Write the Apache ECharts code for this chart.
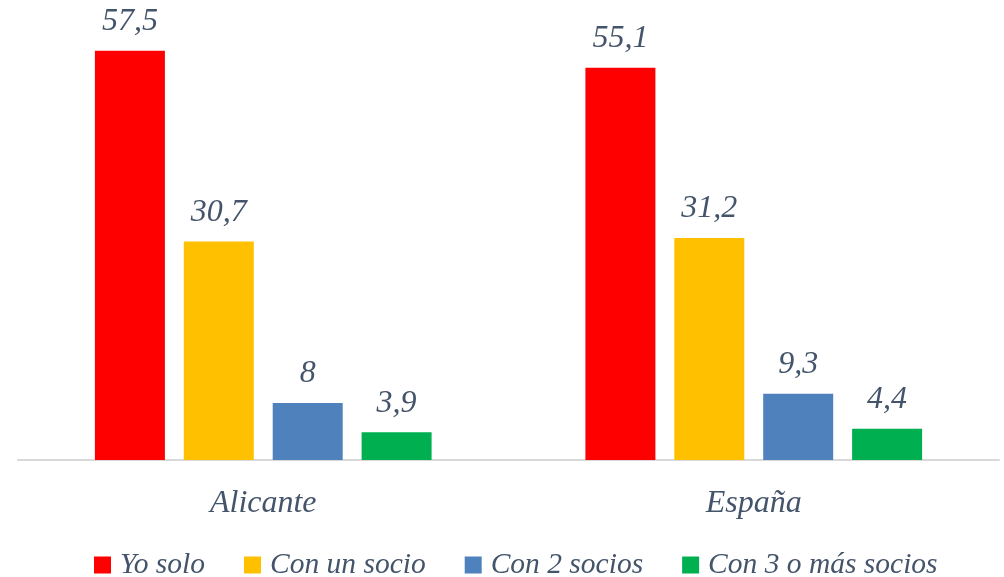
<!DOCTYPE html>
<html>
<head>
<meta charset="utf-8">
<script src="https://cdn.jsdelivr.net/npm/echarts@6/dist/echarts.min.js"></script>
<style>
html, body { margin: 0; padding: 0; background: #fff; }
#chart { width: 1004px; height: 577px; }
</style>
</head>
<body>
<div id="chart"></div>
<script>
var categories = ['Alicante', 'España'];
var seriesNames = ['Yo solo', 'Con un socio', 'Con 2 socios', 'Con 3 o más socios'];
var yoSolo = [57.5, 55.1];
var conUnSocio = [30.7, 31.2];
var con2Socios = [8, 9.3];
var con3oMas = [3.9, 4.4];
var colors = ['#ff0000', '#ffc000', '#4f81bd', '#00b050'];

var textColor = '#44546a';
var fontFam = '"Liberation Serif", serif';

function fmt(p) {
	return String(p.value).replace('.', ',');
}

var chart = echarts.init(document.getElementById('chart'));
var allData = [yoSolo, conUnSocio, con2Socios, con3oMas];
var series = allData.map(function (d, i) {
	return {
		name: seriesNames[i],
		type: 'bar',
		data: d,
		barWidth: 70,
		barGap: '27%',
		itemStyle: { color: colors[i] },
		label: {
			show: true,
			position: 'top',
			distance: 13,
			formatter: fmt,
			color: textColor,
			fontFamily: fontFam,
			fontStyle: 'italic',
			fontSize: 32
		}
	};
});

chart.setOption({
	animation: false,
	color: colors,
	grid: { left: 18, right: 5, top: 33, bottom: 117 },
	legend: {
		top: 545,
		left: 89,
		itemWidth: 17,
		itemHeight: 17,
		itemGap: 39,
		icon: 'rect',
		textStyle: {
			color: textColor,
			fontFamily: fontFam,
			fontStyle: 'italic',
			fontSize: 29.5,
			padding: [0, 0, 0, 4]
		},
		data: seriesNames
	},
	xAxis: {
		type: 'category',
		data: categories,
		axisLine: { lineStyle: { color: '#d9d9d9', width: 2 } },
		axisTick: { show: false },
		axisLabel: {
			color: textColor,
			fontFamily: fontFam,
			fontStyle: 'italic',
			fontSize: 32,
			margin: 28
		}
	},
	yAxis: {
		type: 'value',
		min: 0,
		max: 60,
		show: false
	},
	series: series
});
</script>
</body>
</html>
